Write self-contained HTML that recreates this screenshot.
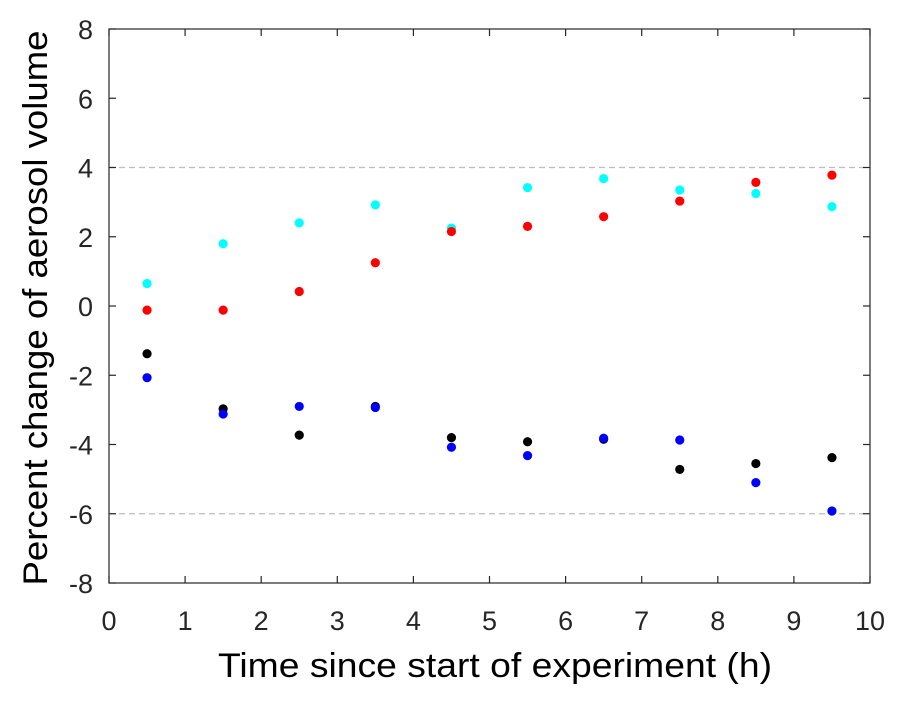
<!DOCTYPE html>
<html><head><meta charset="utf-8"><style>
html,body{margin:0;padding:0;background:#fff;}
svg{display:block;font-family:"Liberation Sans",Arial,sans-serif;}
</style></head><body>
<svg id="chart" width="905" height="703" viewBox="0 0 905 703"></svg>
<script>
const xCats = [0.5,1.5,2.5,3.5,4.5,5.5,6.5,7.5,8.5,9.5];
const cyanVals = [0.65,1.8,2.4,2.92,2.25,3.42,3.68,3.35,3.25,2.87];
const redVals = [-0.12,-0.12,0.42,1.25,2.15,2.3,2.58,3.03,3.57,3.78];
const blackVals = [-1.38,-2.97,-3.73,-2.9,-3.8,-3.92,-3.85,-4.72,-4.55,-4.38];
const blueVals = [-2.07,-3.12,-2.9,-2.93,-4.08,-4.32,-3.82,-3.87,-5.1,-5.92];
const xTicks = [0,1,2,3,4,5,6,7,8,9,10];
const yTicks = [-8,-6,-4,-2,0,2,4,6,8];
const refLines = [4,-6];

const NS="http://www.w3.org/2000/svg";
const svg=document.getElementById('chart');
const L=109,R=870,T=29,B=583;
const xs=v=>L+(v-0)/(10-0)*(R-L);
const ys=v=>B-(v+8)/16*(B-T);
function mk(tag,attrs,parent){const e=document.createElementNS(NS,tag);for(const k in attrs)e.setAttribute(k,attrs[k]);(parent||svg).appendChild(e);return e;}

const frame=mk('rect',{x:L,y:T,width:R-L,height:B-T,fill:'#fff',stroke:'#262626','stroke-width':1.2});



refLines.forEach(v=>{
  const l=mk('line',{x1:L,x2:R,y1:ys(v),y2:ys(v),stroke:'#bdbdbd','stroke-width':1.3,'stroke-dasharray':'6,4'});
  
  
});

xTicks.forEach(v=>{
  const x=xs(v);
  mk('line',{x1:x,x2:x,y1:B,y2:B-7,stroke:'#262626','stroke-width':1.2});
  mk('line',{x1:x,x2:x,y1:T,y2:T+7,stroke:'#262626','stroke-width':1.2});
  const t=mk('text',{x:x,y:630,'text-anchor':'middle','font-size':27,fill:'#262626'});
  t.textContent=v;
  
  
});
yTicks.forEach(v=>{
  const y=ys(v);
  mk('line',{x1:L,x2:L+7,y1:y,y2:y,stroke:'#262626','stroke-width':1.2});
  mk('line',{x1:R,x2:R-7,y1:y,y2:y,stroke:'#262626','stroke-width':1.2});
  const t=mk('text',{x:93,y:y+10,'text-anchor':'end','font-size':27,fill:'#262626'});
  t.textContent=v;
  
  
});

const xl=mk('text',{x:495,y:677,'text-anchor':'middle','font-size':34,fill:'#000',textLength:554,lengthAdjust:'spacingAndGlyphs'});
xl.textContent='Time since start of experiment (h)';


const yl=mk('text',{x:0,y:0,'text-anchor':'middle','font-size':34,fill:'#000',textLength:555,lengthAdjust:'spacingAndGlyphs',transform:'translate(47,308) rotate(-90)'});
yl.textContent='Percent change of aerosol volume';



const series=[['cyan',cyanVals,'#00ffff'],['red',redVals,'#ff0000'],['black',blackVals,'#000000'],['blue',blueVals,'#0000ff']];
series.forEach(([name,vals,col])=>{
  vals.forEach((v,i)=>{
    const c=mk('circle',{cx:xs(xCats[i]),cy:ys(v),r:4.6,fill:col});
    
    
  });
});
</script>
</body></html>
